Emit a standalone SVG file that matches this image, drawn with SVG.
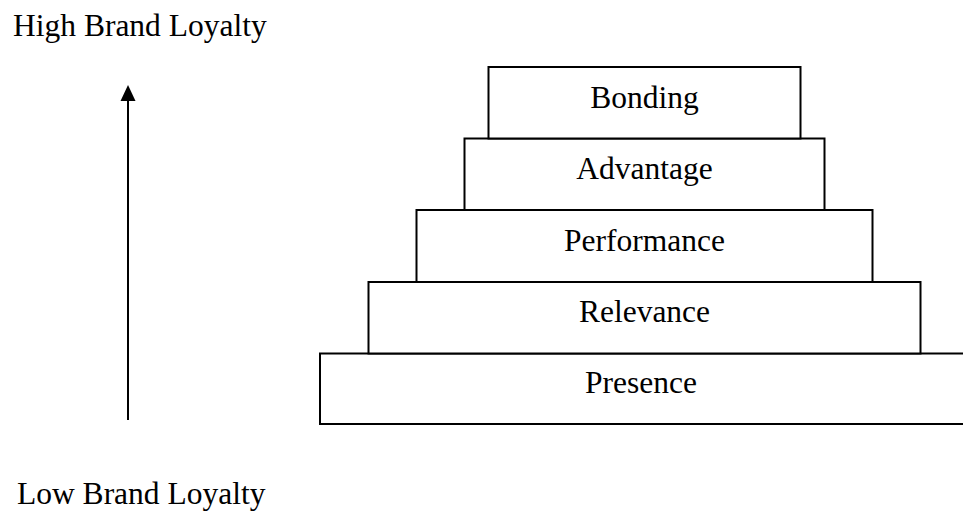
<svg xmlns="http://www.w3.org/2000/svg" width="963" height="512" viewBox="0 0 963 512">
<defs>
<style>
.box{fill:#fff;stroke:#000;stroke-width:2}
.t{font-family:"Liberation Serif","Times New Roman",serif;font-size:31.5px;fill:#000}
.c{text-anchor:middle}
</style>
</defs>
<rect width="963" height="512" fill="#fff"/>
<g id="label-high"><text class="t" x="13" y="36">High Brand Loyalty</text></g>
<g id="label-low"><text class="t" x="17" y="504">Low Brand Loyalty</text></g>
<g id="connectors">
<line x1="128" y1="420" x2="128" y2="99" stroke="#000" stroke-width="2"/>
<polygon points="128,85 120.5,101 135.5,101" fill="#000"/>
</g>
<g id="presence"><rect class="box" x="320" y="353.5" width="650" height="70.5"/><text class="t c" x="641" y="393">Presence</text></g>
<g id="relevance"><rect class="box" x="368.5" y="282" width="552" height="71.5"/><text class="t c" x="644.5" y="321.5">Relevance</text></g>
<g id="performance"><rect class="box" x="416.5" y="210" width="456" height="72"/><text class="t c" x="644.5" y="250.5">Performance</text></g>
<g id="advantage"><rect class="box" x="464.5" y="138.5" width="360" height="71.5"/><text class="t c" x="644.5" y="178.5">Advantage</text></g>
<g id="bonding"><rect class="box" x="488.5" y="67" width="312" height="71.5"/><text class="t c" x="644.5" y="108">Bonding</text></g>
</svg>
